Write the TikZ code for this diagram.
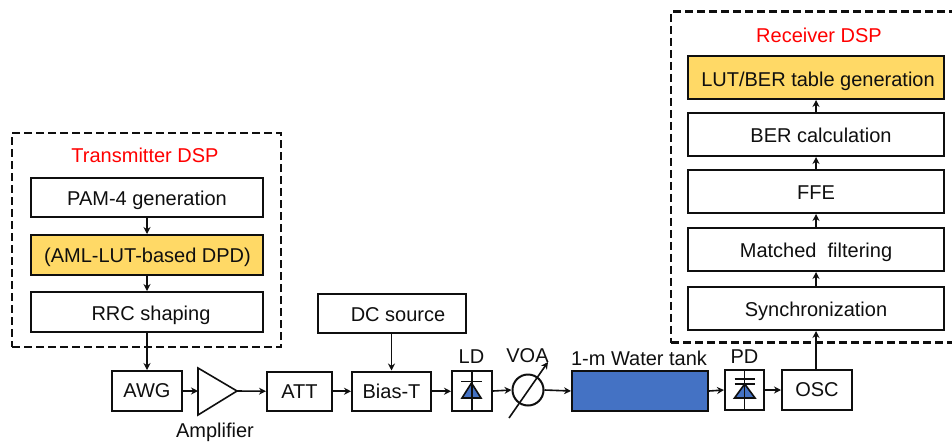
\documentclass[tikz,border=0pt]{standalone}
\usepackage{fontspec}
\setmainfont{Liberation Sans}
\usetikzlibrary{arrows.meta,positioning,calc}
\definecolor{gold}{RGB}{255,217,102}
\definecolor{tankblue}{RGB}{68,114,196}
\definecolor{ink}{RGB}{15,15,15}
\tikzset{
 x=1pt,y=-1pt,
 conn/.style={draw=ink,line width=1.6pt,-{Stealth[length=7pt,width=7pt]}},
 blk/.style={draw=ink,line width=2pt,fill=white,inner sep=0pt,text=ink,font=\fontsize{20}{24}\selectfont},
 gblk/.style={blk,fill=gold},
 dbox/.style={draw=ink,line width=2.6pt,dash pattern=on 8pt off 4pt},
 lbl/.style={inner sep=0pt,text=ink,font=\fontsize{20}{24}\selectfont},
 rlbl/.style={inner sep=0pt,text=red,font=\fontsize{20}{24}\selectfont},
 diodefill/.style={fill=tankblue,draw=ink,line width=1.6pt},
 diodeline/.style={draw=ink,line width=1.6pt},
}
\newcommand{\bx}[7][blk]{\node[#1,minimum width=#5pt-#3pt,minimum height=#6pt-#4pt,anchor=center] (#2) at ({(#3+#5)/2},{(#4+#6)/2}) {#7};}
\newcommand{\tdn}[2]{\raisebox{-#1pt}[0pt][0pt]{#2}}
\begin{document}
\begin{tikzpicture}
\useasboundingbox (0,0) rectangle (952,442);
\node[dbox,minimum width=269pt,minimum height=214pt,inner sep=0pt] (txd) at (146.5,240) {};
\node[dbox,minimum width=289pt,minimum height=331.5pt,inner sep=0pt] (rxd) at (815.5,177) {};
\node[rlbl] (txt) at (145,155) {Transmitter DSP};
\node[rlbl] (rxt) at (819,35) {Receiver DSP};
\bx{pam}{31}{178}{263}{217}{\tdn{8}{PAM-4 generation}}
\bx[gblk]{aml}{31}{235}{263}{275}{\tdn{7.5}{\hspace*{1pt}(AML-LUT-based DPD)}}
\bx{rrc}{31}{292}{263}{332}{\tdn{8.5}{\hspace*{8pt}RRC shaping}}
\bx[gblk]{lut}{688}{56}{944}{99}{\tdn{9}{\hspace*{4pt}LUT/BER table generation}}
\bx{ber}{688}{113}{944}{156}{\tdn{8}{\hspace*{10pt}BER calculation}}
\bx{ffe}{688}{170}{944}{213}{\tdn{8}{FFE}}
\bx{mf}{688}{228}{944}{271}{\tdn{8}{Matched\ \ filtering}}
\bx{syn}{688}{287}{944}{330}{\tdn{8}{Synchronization}}
\bx{awg}{112}{371}{182}{411}{AWG}
\bx{att}{267}{371.5}{332}{411}{ATT}
\bx{bias}{352}{371.5}{431}{411}{Bias-T}
\bx{dc}{318}{294}{466}{333}{\tdn{8}{\hspace*{12pt}DC source}}
\bx{ld}{452}{371}{492}{411}{}
\bx{pd}{725}{370}{764}{410}{}
\bx{osc}{782}{370}{852}{410}{OSC}
\node[blk,fill=tankblue,minimum width=136pt,minimum height=40pt] (tank) at (640,391) {};
\coordinate (ampw) at (198,391);
\coordinate (ampe) at (237,391);
\draw[draw=ink,line width=1.6pt,fill=white] (198,368) -- (237,391) -- (198,415) -- cycle;
\node[circle,draw=ink,line width=2pt,minimum size=31pt,inner sep=0pt] (voa) at (528,390) {};
\coordinate (voaa) at (509,418);
\coordinate (voab) at (548,362);
\node[lbl] (ampl) at (215,432) {Amplifier};
\node[lbl] (ldl) at (471.5,357) {LD};
\node[lbl] (voal) at (527.5,356) {VOA};
\node[lbl] (tankl) at (639,358) {1-m Water tank};
\node[lbl] (pdl) at (744.5,357) {PD};
\draw[conn] (voaa) -- (voab);
% LD diode
\draw[diodefill] (462,398) -- (481,398) -- (471.5,383) -- cycle;
\draw[diodeline] (ld.north) -- (ld.south);
\draw[diodeline] (461,381.5) -- (482,381.5);
% PD diode
\draw[diodefill] (734.5,398) -- (755,398) -- (744.7,384) -- cycle;
\draw[diodeline] (pd.north) -- (pd.south);
\draw[diodeline] (734.5,379) -- (755,379);
\draw[diodeline] (734.5,384) -- (755,384);
% connectors
\draw[conn] (pam.south) -- (aml.north);
\draw[conn] (aml.south) -- (rrc.north);
\draw[conn] (rrc.south) -- (rrc.south |- awg.north);
\draw[conn] (awg.east) -- (ampw);
\draw[conn] (ampe) -- (att.west);
\draw[conn] (att.east) -- (bias.west);
\draw[conn] (bias.east) -- (bias.east -| ld.west);
\draw[conn] (dc.south -| bias.north) -- (bias.north);
\draw[conn] (ld.east) -- (voa.west);
\draw[conn] (voa.east) -- (tank.west);
\draw[conn] (tank.east) -- (pd.west);
\draw[conn] (pd.east) -- (osc.west);
\draw[conn] (osc.north -| syn.south) -- (syn.south);
\draw[conn] (syn.north) -- (mf.south);
\draw[conn] (mf.north) -- (ffe.south);
\draw[conn] (ffe.north) -- (ber.south);
\draw[conn] (ber.north) -- (lut.south);
\end{tikzpicture}
\end{document}
